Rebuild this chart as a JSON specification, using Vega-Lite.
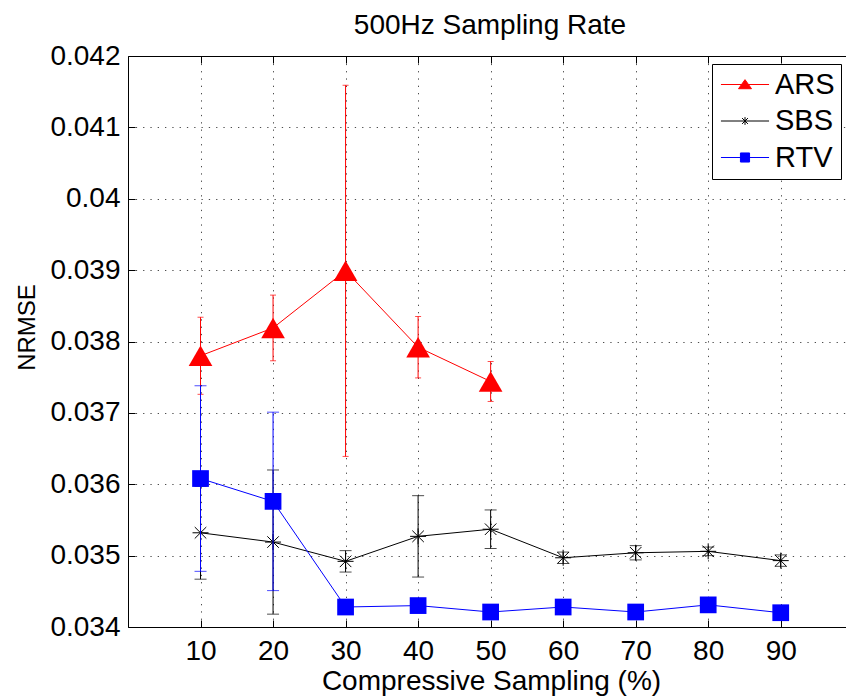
{
  "$schema": "https://vega.github.io/schema/vega-lite/v6.json",
  "autosize": "none",
  "width": 718,
  "height": 571,
  "padding": {"left": 128, "top": 56, "right": 0, "bottom": 69},
  "background": "white",
  "config": {
    "font": "Liberation Sans",
    "view": {"stroke": null},
    "axis": {"labelColor": "#000", "titleColor": "#000", "domainColor": "#000", "tickColor": "#000", "titleFontWeight": "normal", "labelFontSize": 28, "titleFontSize": 28, "labelFont": "Liberation Sans", "titleFont": "Liberation Sans", "zindex": 0},
    "title": {"fontSize": 28, "font": "Liberation Sans", "fontWeight": "normal", "color": "#000", "offset": 2}
  },
  "title": {"text": "500Hz Sampling Rate", "dx": 3},
  "data": {"values": [
    {"series": "ARS", "x": 10, "y": 0.0378, "err": 0.00054},
    {"series": "ARS", "x": 20, "y": 0.03819, "err": 0.00046},
    {"series": "ARS", "x": 30, "y": 0.03899, "err": 0.0026},
    {"series": "ARS", "x": 40, "y": 0.03792, "err": 0.00043},
    {"series": "ARS", "x": 50, "y": 0.03744, "err": 0.00028},
    {"series": "SBS", "x": 10, "y": 0.03532, "err": 0.00065},
    {"series": "SBS", "x": 20, "y": 0.03519, "err": 0.00101},
    {"series": "SBS", "x": 30, "y": 0.03492, "err": 0.00015},
    {"series": "SBS", "x": 40, "y": 0.03527, "err": 0.00057},
    {"series": "SBS", "x": 50, "y": 0.03537, "err": 0.00027},
    {"series": "SBS", "x": 60, "y": 0.03497, "err": 0.00008},
    {"series": "SBS", "x": 70, "y": 0.03504, "err": 0.0001},
    {"series": "SBS", "x": 80, "y": 0.03506, "err": 0.00006},
    {"series": "SBS", "x": 90, "y": 0.03493, "err": 0.00008},
    {"series": "RTV", "x": 10, "y": 0.03608, "err": 0.0013},
    {"series": "RTV", "x": 20, "y": 0.03576, "err": 0.00125},
    {"series": "RTV", "x": 30, "y": 0.03428, "err": 0.00003},
    {"series": "RTV", "x": 40, "y": 0.0343, "err": 0.00005},
    {"series": "RTV", "x": 50, "y": 0.03421, "err": 0.00002},
    {"series": "RTV", "x": 60, "y": 0.03428, "err": 0.00003},
    {"series": "RTV", "x": 70, "y": 0.03421, "err": 0.00002},
    {"series": "RTV", "x": 80, "y": 0.03431, "err": 0.00005},
    {"series": "RTV", "x": 90, "y": 0.0342, "err": 0.00002}
  ]},
  "encoding": {
    "x": {"field": "x", "type": "quantitative", "scale": {"domain": [0, 99], "nice": false}, "axis": null},
    "y": {"field": "y", "type": "quantitative", "scale": {"domain": [0.034, 0.042], "nice": false, "zero": false},
      "axis": {"values": [0.034, 0.035, 0.036, 0.037, 0.038, 0.039, 0.04, 0.041, 0.042], "format": ".3~f", "tickSize": -7, "labelPadding": 15, "grid": true, "gridDash": [1.3, 6], "gridColor": "#000", "gridOpacity": 0.7, "title": "NRMSE", "titleFontSize": 24, "titleX": -94, "titleY": 271, "titleBaseline": "alphabetic"}}
  },
  "resolve": {"axis": {"x": "independent"}},
  "layer": [
    {"transform": [{"filter": "datum.series == 'ARS'"}], "mark": {"type": "errorbar", "ticks": {"size": 6}, "color": "#ff0000"}, "encoding": {"yError": {"field": "err"}}},
    {"transform": [{"filter": "datum.series == 'ARS'"}], "mark": {"type": "line", "color": "#ff0000", "strokeWidth": 1},
      "encoding": {"x": {"field": "x", "type": "quantitative", "scale": {"domain": [0, 99], "nice": false},
        "axis": {"orient": "bottom", "values": [10, 20, 30, 40, 50, 60, 70, 80, 90], "tickSize": -7, "labelPadding": 17, "grid": true, "gridDash": [1.3, 6], "gridColor": "#000", "gridOpacity": 0.7, "title": "Compressive Sampling (%)", "titleX": 363, "titleY": 62, "titleBaseline": "alphabetic"}}}},
    {"transform": [{"filter": "datum.series == 'ARS'"}], "mark": {"type": "point", "shape": "triangle-up", "filled": true, "color": "#ff0000", "size": 560, "opacity": 1},
      "encoding": {"x": {"field": "x", "type": "quantitative", "scale": {"domain": [0, 99], "nice": false},
        "axis": {"orient": "top", "values": [10, 20, 30, 40, 50, 60, 70, 80, 90], "tickSize": -7, "labels": false, "grid": false, "title": null}}}},
    {"transform": [{"filter": "datum.series == 'SBS'"}], "mark": {"type": "errorbar", "ticks": {"size": 12}, "color": "#000000"}, "encoding": {"yError": {"field": "err"}}},
    {"transform": [{"filter": "datum.series == 'SBS'"}], "mark": {"type": "line", "color": "#000000", "strokeWidth": 1}},
    {"transform": [{"filter": "datum.series == 'SBS'"}], "mark": {"type": "point", "shape": "M-1,0L1,0M0,-1L0,1M-0.72,-0.72L0.72,0.72M-0.72,0.72L0.72,-0.72", "filled": false, "color": "#000000", "size": 256, "strokeWidth": 1, "opacity": 1}},
    {"transform": [{"filter": "datum.series == 'RTV'"}], "mark": {"type": "errorbar", "ticks": {"size": 12}, "color": "#0000ff"}, "encoding": {"yError": {"field": "err"}}},
    {"transform": [{"filter": "datum.series == 'RTV'"}], "mark": {"type": "line", "color": "#0000ff", "strokeWidth": 1}},
    {"transform": [{"filter": "datum.series == 'RTV'"}], "mark": {"type": "point", "shape": "square", "filled": true, "color": "#0000ff", "size": 280, "opacity": 1}},
    {"transform": [{"filter": "datum.x > 1000"}], "mark": {"type": "point", "filled": true, "strokeWidth": 1, "opacity": 1},
      "encoding": {
        "fill": {"field": "series", "type": "nominal", "scale": {"domain": ["ARS", "SBS", "RTV"], "range": ["#ff0000", "#000000", "#0000ff"]},
          "legend": {"orient": "none", "legendX": 584, "legendY": 8, "title": null, "strokeColor": "#000", "fillColor": "#fff", "padding": 6, "labelFontSize": 29, "labelColor": "#000", "labelFont": "Liberation Sans", "symbolSize": 169, "symbolOffset": 12.5, "labelOffset": 15.5, "rowPadding": 6.5, "symbolStrokeWidth": 1}},
        "stroke": {"field": "series", "type": "nominal", "scale": {"domain": ["ARS", "SBS", "RTV"], "range": ["#ff0000", "#000000", "#0000ff"]},
          "legend": {"orient": "none", "legendX": 584, "legendY": 8, "title": null, "strokeColor": "#000", "fillColor": "#fff", "padding": 6, "labelFontSize": 29, "labelColor": "#000", "labelFont": "Liberation Sans", "symbolSize": 169, "symbolOffset": 12.5, "labelOffset": 15.5, "rowPadding": 6.5, "symbolStrokeWidth": 1}},
        "shape": {"field": "series", "type": "nominal", "scale": {"domain": ["ARS", "SBS", "RTV"], "range": [
            "M-3.7,0L3.7,0M0,-0.75L1,0.65L-1,0.65Z",
            "M-3.7,0L3.7,0M0,-0.6L0,0.6M-0.45,-0.45L0.45,0.45M-0.45,0.45L0.45,-0.45",
            "M-3.7,0L3.7,0M-0.7,-0.7L0.7,-0.7L0.7,0.7L-0.7,0.7Z"]},
          "legend": {"orient": "none", "legendX": 584, "legendY": 8, "title": null, "strokeColor": "#000", "fillColor": "#fff", "padding": 6, "labelFontSize": 29, "labelColor": "#000", "labelFont": "Liberation Sans", "symbolSize": 169, "symbolOffset": 12.5, "labelOffset": 15.5, "rowPadding": 6.5, "symbolStrokeWidth": 1}}
      }}
  ]
}
